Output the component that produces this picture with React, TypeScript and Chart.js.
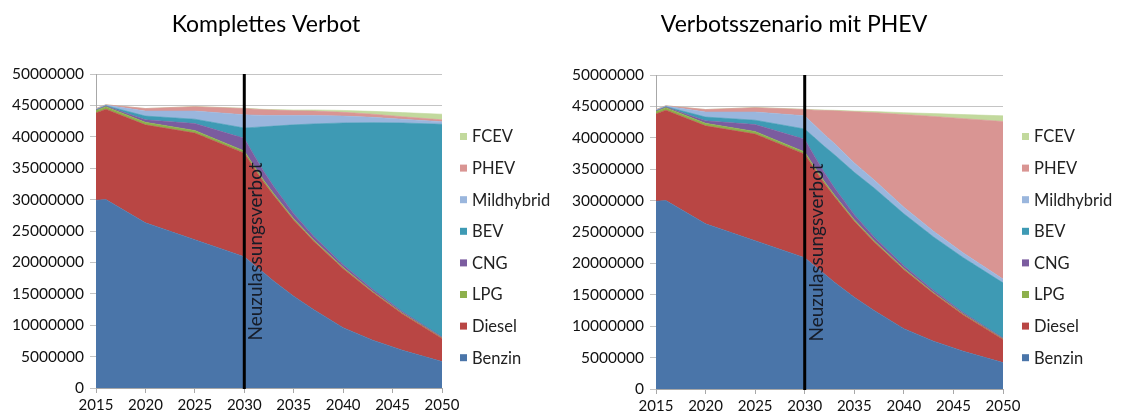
import React, { useEffect, useRef } from 'react';
import { Chart, registerables } from 'chart.js';

Chart.register(...registerables);

// Jahre (x-Werte) und Fahrzeugbestand in Mio.
const years = [2015, 2016, 2020, 2025, 2030, 2031, 2032, 2033, 2035, 2037, 2040, 2043, 2046, 2050];

const benzin = [29.9, 30.0, 26.3, 23.6, 20.9, 19.6, 18.3, 17.0, 14.6, 12.5, 9.6, 7.6, 6.0, 4.2];
const diesel = [13.9, 14.4, 15.6, 17.0, 16.5, 15.4, 14.4, 13.6, 12.1, 10.9, 9.4, 7.6, 5.8, 3.7];
const lpg = [0.4, 0.4, 0.4, 0.4, 0.35, 0.33, 0.3, 0.28, 0.25, 0.22, 0.18, 0.14, 0.1, 0.07];
const cng = [0.05, 0.1, 0.4, 1.1, 2.0, 1.7, 1.4, 1.15, 0.8, 0.6, 0.45, 0.35, 0.25, 0.15];
const fcev = [0, 0, 0, 0.02, 0.05, 0.06, 0.07, 0.08, 0.12, 0.18, 0.3, 0.45, 0.65, 0.9];

// Szenario "Komplettes Verbot"
const bevVerbot = [0.05, 0.05, 0.6, 0.7, 1.65, 4.47, 7.2, 9.67, 14.15, 17.83, 22.57, 26.56, 30.05, 33.88];
const mildVerbot = [0.1, 0.1, 0.8, 1.3, 2.1, 1.95, 1.8, 1.7, 1.5, 1.35, 1.1, 0.85, 0.6, 0.4];
const phevVerbot = [0.1, 0.05, 0.4, 0.7, 1.0, 0.95, 0.9, 0.85, 0.75, 0.7, 0.6, 0.5, 0.4, 0.3];

// Szenario "Verbotsszenario mit PHEV"
const bevPhev = [0.05, 0.05, 0.6, 0.7, 1.65, 2.97, 4.2, 5.27, 6.75, 7.78, 8.27, 8.51, 8.75, 8.78];
const mildPhev = [0.1, 0.1, 0.8, 1.3, 2.1, 2.0, 1.9, 1.8, 1.5, 1.3, 1.05, 0.9, 0.75, 0.6];
const phevPhev = [0.1, 0.05, 0.4, 0.7, 1.0, 2.4, 3.85, 5.2, 8.15, 10.7, 14.75, 18.3, 21.4, 25.1];

const seriesNames = ['Benzin', 'Diesel', 'LPG', 'CNG', 'BEV', 'Mildhybrid', 'PHEV', 'FCEV'];
const seriesColors = ['#4a75a9', '#b94644', '#8db04c', '#7b5c9f', '#3e9ab4', '#9ab6dd', '#d99593', '#c2d99d'];

const banYear = 2030;
const banLabel = 'Neuzulassungsverbot';
const titleVerbot = 'Komplettes Verbot';
const titlePhev = 'Verbotsszenario mit PHEV';

const MIO = 1000000;
const FONT = 'Lato, "Open Sans", sans-serif';

type Layout = {
  left: number;
  width: number;
  axisLeft: number;
  plotRight: number;
  plotTop: number;
  plotBottom: number;
  titleX: number;
  legendX: number;
};

function buildDatasets(series: number[][]) {
  return series.map((vals, i) => ({
    label: seriesNames[i],
    data: vals.map((v, j) => ({ x: years[j], y: v * MIO })),
    backgroundColor: seriesColors[i],
    borderColor: seriesColors[i],
    borderWidth: 0.6,
    pointRadius: 0,
    pointHoverRadius: 0,
    tension: 0,
    fill: i === 0 ? 'origin' : '-1',
  }));
}

function StackedArea({ series, title, layout }: { series: number[][]; title: string; layout: Layout }) {
  const ref = useRef<HTMLCanvasElement | null>(null);

  useEffect(() => {
    if (!ref.current) return;
    const H = 419;
    const decor = {
      id: 'decor',
      afterDatasetsDraw(chart: any) {
        const { ctx, chartArea, scales } = chart;
        const x = scales.x.getPixelForValue(banYear);
        ctx.save();
        ctx.strokeStyle = '#000';
        ctx.lineWidth = 3;
        ctx.beginPath();
        ctx.moveTo(x, chartArea.top);
        ctx.lineTo(x, chartArea.bottom + 1);
        ctx.stroke();
        ctx.translate(x + 18, chartArea.top + 177.5);
        ctx.rotate(-Math.PI / 2);
        ctx.font = `19px ${FONT}`;
        ctx.fillStyle = '#161c28';
        ctx.textAlign = 'center';
        ctx.textBaseline = 'alphabetic';
        ctx.fillText(banLabel, 0, 0);
        ctx.restore();
      },
      afterDraw(chart: any) {
        const { ctx } = chart;
        ctx.save();
        // Titel
        ctx.font = `23px ${FONT}`;
        ctx.fillStyle = '#000';
        ctx.textAlign = 'center';
        ctx.textBaseline = 'middle';
        ctx.fillText(title, layout.titleX, 25);
        // Legende (umgekehrte Reihenfolge)
        const ds = chart.data.datasets;
        ctx.font = `16.5px ${FONT}`;
        ctx.textAlign = 'left';
        ctx.textBaseline = 'middle';
        for (let k = 0; k < ds.length; k++) {
          const d = ds[ds.length - 1 - k];
          const cy = 136.5 + k * 31.6;
          ctx.fillStyle = d.backgroundColor;
          ctx.fillRect(layout.legendX, cy - 3.5, 7, 7);
          ctx.fillStyle = '#222';
          ctx.fillText(d.label, layout.legendX + 12, cy + 0.5);
        }
        ctx.restore();
      },
    };

    const chart = new Chart(ref.current, {
      type: 'line',
      data: { datasets: buildDatasets(series) as any },
      options: {
        responsive: false,
        animation: false,
        events: [],
        layout: {
          padding: {
            top: layout.plotTop,
            left: 0,
            right: layout.width - layout.plotRight,
            bottom: 0,
          },
        },
        plugins: {
          legend: { display: false },
          title: { display: false },
          tooltip: { enabled: false },
        },
        scales: {
          x: {
            type: 'linear',
            min: 2015,
            max: 2050,
            ticks: {
              stepSize: 5,
              padding: 3,
              color: '#111',
              font: { family: FONT, size: 15 },
              callback: (v: any) => String(v),
            },
            grid: { drawOnChartArea: false, drawTicks: true, tickLength: 5, color: '#a8a8a8' },
            border: { display: true, color: '#a8a8a8' },
            afterFit: (s: any) => {
              s.height = H - layout.plotBottom;
            },
          },
          y: {
            type: 'linear',
            stacked: true,
            min: 0,
            max: 50 * MIO,
            ticks: {
              stepSize: 5 * MIO,
              padding: 6,
              color: '#111',
              font: { family: FONT, size: 15.5 },
              callback: (v: any) => String(v),
            },
            grid: { color: '#c4c4c4', tickLength: 6, drawTicks: true },
            border: { display: true, color: '#a8a8a8' },
            afterFit: (s: any) => {
              s.width = layout.axisLeft;
            },
          },
        },
      },
      plugins: [decor],
    });
    return () => chart.destroy();
  }, []);

  return (
    <canvas
      ref={ref}
      width={layout.width}
      height={419}
      style={{ position: 'absolute', left: layout.left, top: 0, width: layout.width, height: 419 }}
    />
  );
}

export default function App() {
  const seriesVerbot = [benzin, diesel, lpg, cng, bevVerbot, mildVerbot, phevVerbot, fcev];
  const seriesPhev = [benzin, diesel, lpg, cng, bevPhev, mildPhev, phevPhev, fcev];
  return (
    <div style={{ position: 'fixed', left: 0, top: 0, width: 1141, height: 419, background: '#fff', overflow: 'hidden' }}>
      <StackedArea
        series={seriesVerbot}
        title={titleVerbot}
        layout={{ left: 0, width: 560, axisLeft: 96, plotRight: 442, plotTop: 74, plotBottom: 388, titleX: 266, legendX: 460 }}
      />
      <StackedArea
        series={seriesPhev}
        title={titlePhev}
        layout={{ left: 560, width: 581, axisLeft: 96, plotRight: 443, plotTop: 75, plotBottom: 389, titleX: 234, legendX: 462 }}
      />
    </div>
  );
}
